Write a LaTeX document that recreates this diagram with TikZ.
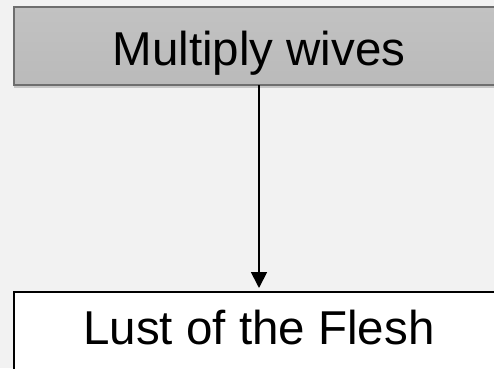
\documentclass[tikz,border=0pt]{standalone}
\usepackage{fontspec}
\setmainfont{Liberation Sans}
\usetikzlibrary{arrows.meta,shadows}
\definecolor{bg}{HTML}{F2F2F2}
\definecolor{topfillA}{HTML}{C2C2C2}
\definecolor{topfillB}{HTML}{BABABA}
\definecolor{topline}{HTML}{6E6E6E}
\tikzset{
  topbox/.style={draw=topline, line width=1.6pt, top color=topfillA, bottom color=topfillB,
    inner sep=0pt, outer sep=0pt, minimum width=490pt, minimum height=78pt,
    text height=38pt, text depth=0pt,
    font=\fontsize{47.5}{57}\selectfont,
    drop shadow={shadow xshift=0pt, shadow yshift=-3pt, opacity=0.18, fill=black}},
  botbox/.style={draw=black, line width=2pt, fill=white,
    inner sep=0pt, outer sep=0pt, minimum width=490pt, minimum height=100pt,
    text height=24pt, text depth=20pt,
    font=\fontsize{47.5}{57}\selectfont},
  conn/.style={draw=black, line width=1.8pt, -{Triangle[width=16pt,length=16pt]}, shorten >=4pt}
}
\begin{document}
\begin{tikzpicture}[x=1pt,y=1pt]
\useasboundingbox (0,0) rectangle (494,368);
\fill[bg] (0,0) rectangle (494,368);
\clip (0,0) rectangle (494,368);
\node[topbox, anchor=north west] (top) at (14,361) {Multiply wives};
\node[botbox, anchor=north west] (bot) at (14,76) {Lust of the Flesh};
\draw[conn] (top.south) -- (bot.north);
\end{tikzpicture}
\end{document}
